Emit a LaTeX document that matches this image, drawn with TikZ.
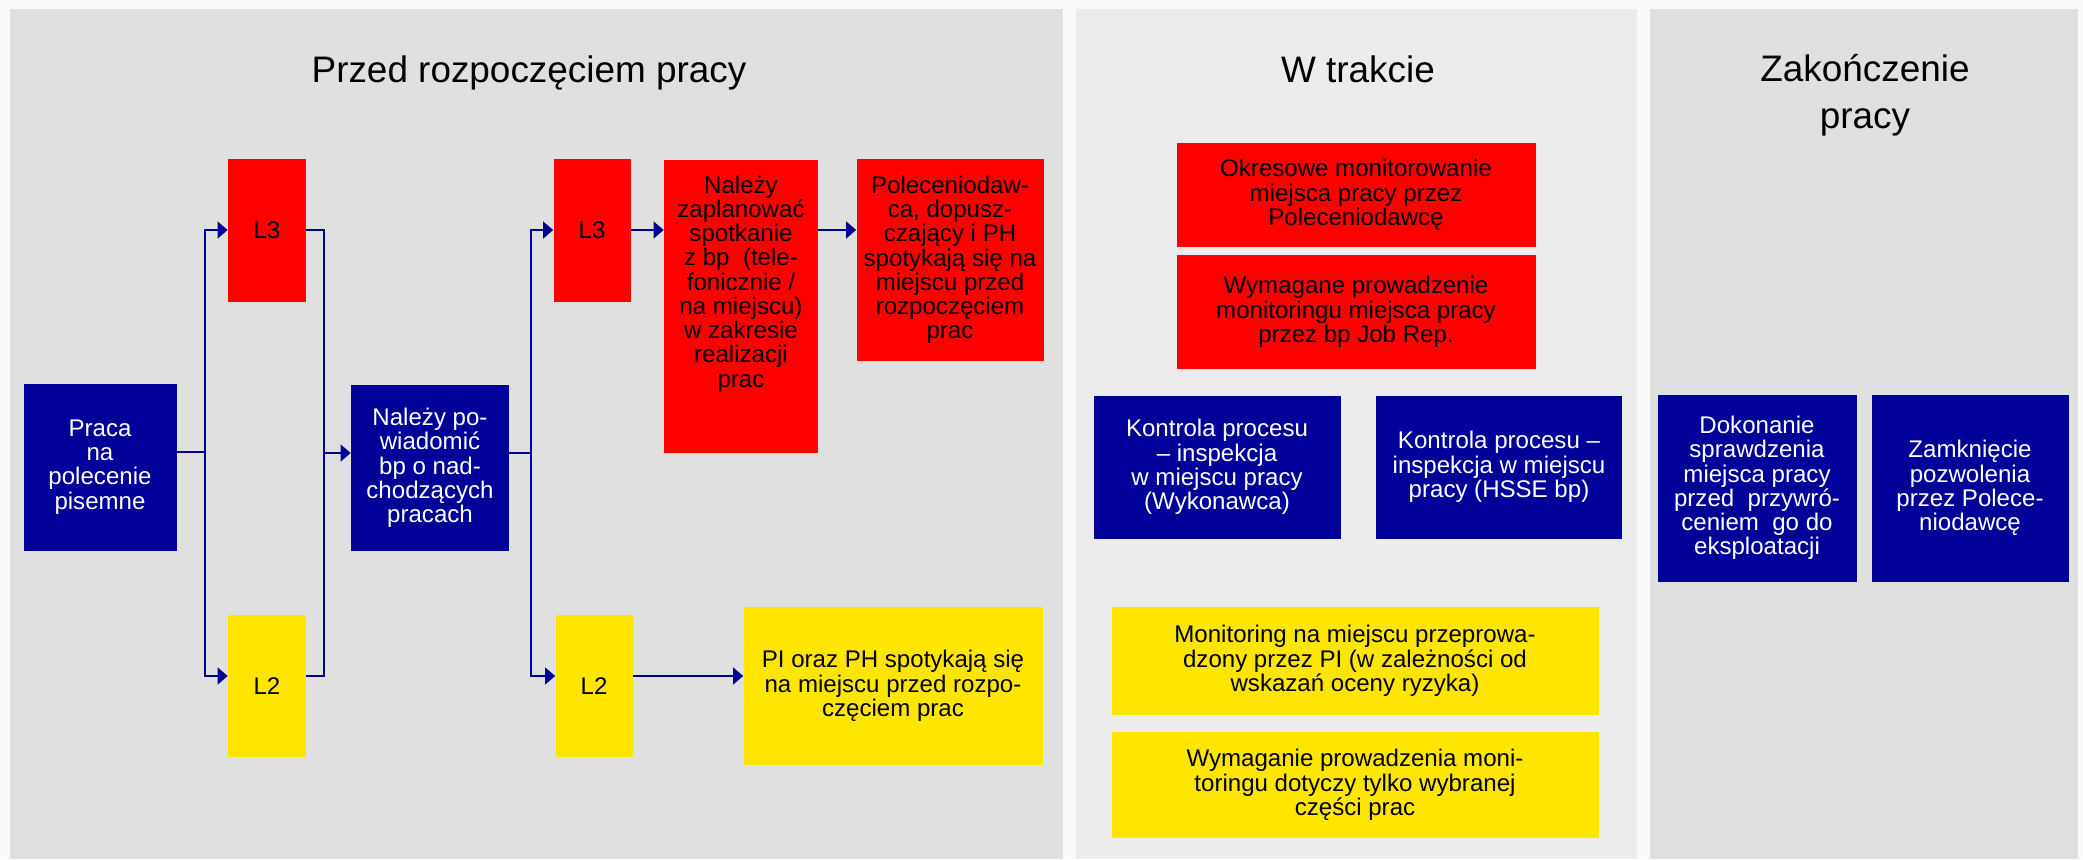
\documentclass[tikz,border=0pt]{standalone}
\usepackage{fontspec}
\setmainfont{Liberation Sans}
\usetikzlibrary{arrows.meta, positioning}
\definecolor{navyfill}{RGB}{0, 0, 153}
\definecolor{redfill}{RGB}{255, 0, 0}
\definecolor{yellowfill}{RGB}{255, 230, 0}
\definecolor{panelgray}{RGB}{224, 224, 224}
\definecolor{panellight}{RGB}{236, 236, 236}
\definecolor{pagebg}{RGB}{249, 249, 249}

\tikzset{
  card/.style 2 args={inner sep=0pt, align=center, minimum width=#1*0.02cm, minimum height=#2*0.02cm, font=\fontsize{13.7}{13.8}\selectfont},
  navybox/.style={fill=navyfill, text=white},
  redbox/.style={fill=redfill, text=black},
  yellowbox/.style={fill=yellowfill, text=black},
  link/.style={draw=navyfill, line width=0.75pt},
  linkarrow/.style={link, -{Triangle[length=0.2cm, width=0.34cm]}},
  phasetitle/.style={align=center, font=\fontsize{21}{26.8}\selectfont},
}

\begin{document}
\begin{tikzpicture}[x=0.02cm, y=-0.02cm]
  \useasboundingbox (0,0) rectangle (2083,859);
  % Phase panels
  \fill[pagebg] (0,0) rectangle (2083,859);
  \fill[panelgray] (10,9) rectangle (1063,859);
  \fill[panellight] (1076,9) rectangle (1637,859);
  \fill[panelgray] (1650,9) rectangle (2078,859);

  \node[phasetitle, anchor=base] (before) at (529,82) {Przed rozpoczęciem pracy};
  \node[phasetitle, anchor=base] (during) at (1358,82) {W trakcie};
  \node[phasetitle] (after) at (1865,95) {Zakończenie\\pracy};

  % Before work
  \node[card={153}{167}, navybox] (praca) at (100,467) {Praca\\na\\polecenie\\pisemne};
  \node[card={78}{143}, redbox] (l3a) at (267,230) {L3};
  \node[card={78}{142}, yellowbox] (l2a) at (267,686) {L2};
  \node[card={158}{166}, navybox] (notify) at (430,468) {Należy po-\\wiadomić\\bp o nad-\\chodzących\\pracach};
  \node[card={77}{143}, redbox] (l3b) at (592,230) {L3};
  \node[card={77}{142}, yellowbox] (l2b) at (594,686) {L2};
  \node[card={154}{293}, redbox, text depth=28pt] (plan) at (741,306) {Należy\\zaplanować\\spotkanie\\z bp~ (tele-\\fonicznie /\\na miejscu)\\w zakresie\\realizacji\\prac};
  \node[card={187}{202}, redbox] (meet) at (950,260) {Poleceniodaw-\\ca, dopusz-\\czający i PH\\spotykają się na\\miejscu przed\\rozpoczęciem\\prac};
  \node[card={299}{158}, yellowbox] (meetpi) at (893,686) {PI oraz PH spotykają się\\na miejscu przed rozpo-\\częciem prac};

  % During work
  \node[card={359}{104}, redbox] (okres) at (1356,195) {Okresowe monitorowanie\\miejsca pracy przez\\Poleceniodawcę};
  \node[card={359}{114}, redbox] (jobrep) at (1356,312) {Wymagane prowadzenie\\monitoringu miejsca pracy\\przez bp Job Rep.};
  \node[card={247}{143}, navybox] (ctrlw) at (1217,467) {Kontrola procesu\\– inspekcja\\w miejscu pracy\\(Wykonawca)};
  \node[card={246}{143}, navybox] (ctrlh) at (1499,467) {Kontrola procesu –\\inspekcja w miejscu\\pracy (HSSE bp)};
  \node[card={487}{108}, yellowbox] (monpi) at (1355,661) {Monitoring na miejscu przeprowa-\\dzony przez PI (w zależności od\\wskazań oceny ryzyka)};
  \node[card={487}{106}, yellowbox] (partial) at (1355,785) {Wymaganie prowadzenia moni-\\toringu dotyczy tylko wybranej\\części prac};

  % End of work
  \node[card={199}{187}, navybox] (check) at (1757,488) {Dokonanie\\sprawdzenia\\miejsca pracy\\przed~ przywró-\\ceniem~ go do\\eksploatacji};
  \node[card={197}{187}, navybox] (close) at (1970,488) {Zamknięcie\\pozwolenia\\przez Polece-\\niodawcę};

  % Connectors
  \coordinate (fork1) at (205,452);
  \coordinate (join1) at (324,453);
  \coordinate (fork2) at (531,453);
  \draw[link] (praca.east |- fork1) -- (fork1);
  \draw[linkarrow] (fork1) |- (l3a.west);
  \draw[linkarrow] (fork1) |- ([yshift=0.2cm]l2a.west);
  \draw[link] (l3a.east) -| (join1);
  \draw[link] ([yshift=0.2cm]l2a.east) -| (join1);
  \draw[linkarrow] (join1) -- (join1 -| notify.west);
  \draw[link] (notify.east |- fork2) -- (fork2);
  \draw[linkarrow] (fork2) |- (l3b.west);
  \draw[linkarrow] (fork2) |- ([yshift=0.2cm]l2b.west);
  \draw[linkarrow] (l3b.east) -- (l3b.east -| plan.west);
  \draw[linkarrow] (l3b.east -| plan.east) -- (l3b.east -| meet.west);
  \draw[linkarrow] ([yshift=0.2cm]l2b.east) -- ([yshift=0.2cm]meetpi.west);
\end{tikzpicture}
\end{document}
